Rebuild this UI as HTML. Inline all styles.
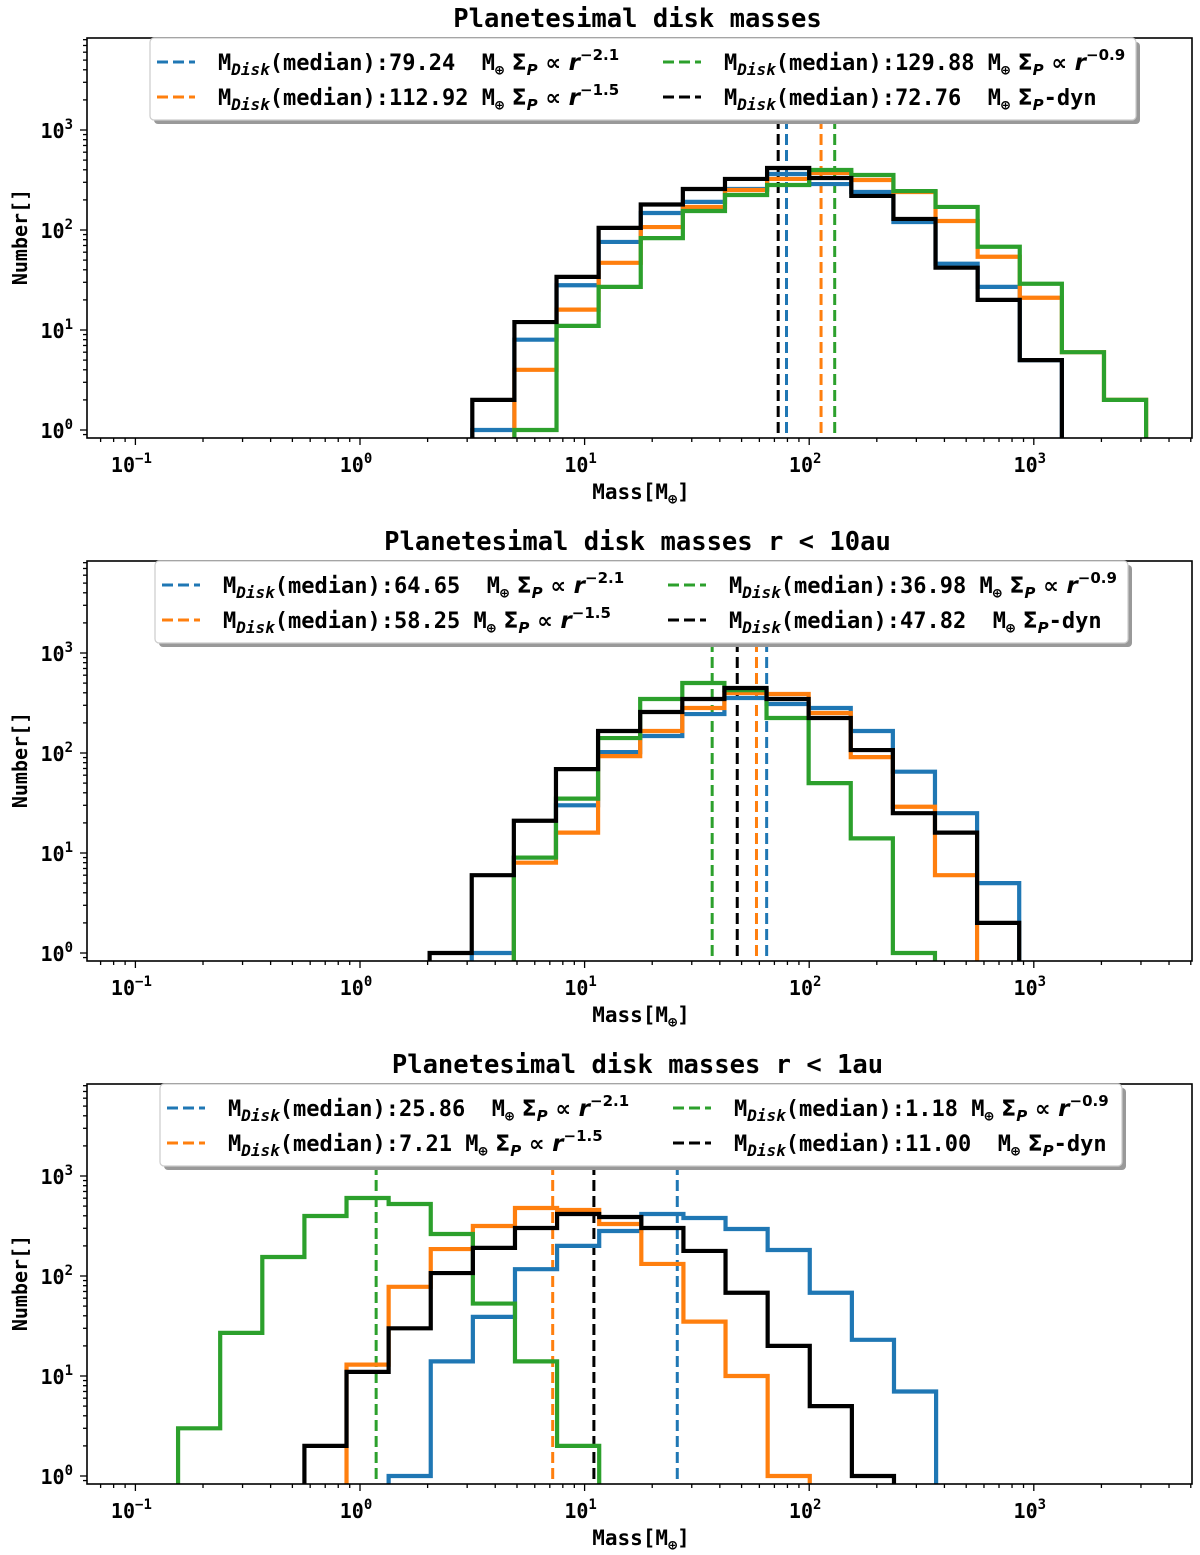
<!DOCTYPE html>
<html><head><meta charset="utf-8"><title>Planetesimal disk masses</title>
<style>
html,body{margin:0;padding:0;background:#fff;}
svg{display:block;font-family:"DejaVu Sans Mono","Liberation Mono",monospace;font-weight:bold;}
text{white-space:pre;}
</style></head>
<body>
<svg id="fig" xmlns="http://www.w3.org/2000/svg" width="1200" height="1555" viewBox="0 0 1200 1555" xml:space="preserve"></svg>
<script>
// ---- data ----
const titles = ["Planetesimal disk masses", "Planetesimal disk masses r < 10au", "Planetesimal disk masses r < 1au"];
const binLo = [0.5, 0.31, -0.81];
const binStep = 0.1875;
const blue1 = [1,8,28,76,148,191,257,363,288,240,120,46,27,5,0,0];
const orange1 = [0,4,16,47,107,170,251,324,372,316,240,123,54,21,6,2];
const green1 = [0,1,11,27,83,155,224,282,398,355,245,170,68,29,6,2];
const black1 = [2,12,34,105,180,257,324,417,331,219,129,42,20,5,0,0];
const blue2 = [0,1,9,30,102,148,245,355,309,282,166,65,25,5];
const orange2 = [0,0,8,16,93,166,282,398,389,251,91,29,6,0];
const green2 = [0,0,9,35,141,347,501,425,224,50,14,1,0,0];
const black2 = [1,6,21,69,166,257,347,447,347,224,107,25,16,2];
const blue3 = [0,0,0,0,0,1,14,39,117,200,282,417,380,295,182,68,23,7];
const orange3 = [0,0,0,0,13,78,186,316,479,457,331,132,35,10,1,0,0,0];
const green3 = [3,27,155,398,603,525,263,53,14,2,0,0,0,0,0,0,0,0];
const black3 = [0,0,0,2,11,30,107,191,302,417,389,302,178,68,20,5,1,0];
const medians1 = [79.24, 112.92, 129.88, 72.76];
const medians2 = [64.65, 58.25, 36.98, 47.82];
const medians3 = [25.86, 7.21, 1.18, 11.00];
const medianLabels1 = ["79.24  ", "112.92 ", "129.88 ", "72.76  "];
const medianLabels2 = ["64.65  ", "58.25 ", "36.98 ", "47.82  "];
const medianLabels3 = ["25.86  ", "7.21 ", "1.18 ", "11.00  "];
const xTickExp = [-1, 0, 1, 2, 3];
const yTickExp = [0, 1, 2, 3];

const series = [[blue1,orange1,green1,black1],[blue2,orange2,green2,black2],[blue3,orange3,green3,black3]];
const medians = [medians1, medians2, medians3];
const medLabels = [medianLabels1, medianLabels2, medianLabels3];
const colors = ["#1f77b4","#ff7f0e","#2ca02c","#000000"];
const seriesNames = ["blue","orange","green","black"];
const slopes = ["−2.1","−1.5","−0.9",null];

const NS = "http://www.w3.org/2000/svg";
const fig = document.getElementById("fig");
const LEFT = 87, RIGHT = 1192, H = 400, X0 = 360, DEC = 224.6;
const tops = [38, 561, 1084];
const legendBox = [[150,1136],[155,1128],[160,1122]];
function xs(v){ return X0 + DEC*Math.log10(v); }
function mk(tag, attrs, parent){ const e=document.createElementNS(NS,tag); for(const k in attrs) e.setAttribute(k, attrs[k]); (parent||fig).appendChild(e); return e; }

const defs = mk("defs",{});
tops.forEach((top,p)=>{
  const cp = mk("clipPath",{id:"clip"+p},defs);
  mk("rect",{x:LEFT,y:top,width:RIGHT-LEFT,height:H},cp);
});

tops.forEach((top,p)=>{
  const ys = v => v<=0 ? top+H+3 : top+392-100*Math.log10(v);
  const g = mk("g",{});
  
  
  const t = mk("text",{x:(LEFT+RIGHT)/2-2, y:top-11, "text-anchor":"middle","font-size":"25.5"},g);
  t.textContent = titles[p];
  
  
  const pg = mk("g",{"clip-path":"url(#clip"+p+")"},g);
  medians[p].forEach((m,i)=>{
    const l = mk("line",{x1:xs(m),x2:xs(m),y1:top,y2:top+H,stroke:colors[i],"stroke-width":3,"stroke-dasharray":"11 5"},pg);
    
    
  });
  series[p].forEach((arr,i)=>{
    const e = k => xs(Math.pow(10, binLo[p]+binStep*k));
    let d = "M"+e(0)+","+(top+H+3);
    arr.forEach((v,k)=>{ d += " L"+e(k)+","+ys(v)+" L"+e(k+1)+","+ys(v); });
    d += " L"+e(arr.length)+","+(top+H+3);
    const path = mk("path",{d:d,fill:"none",stroke:colors[i],"stroke-width":4.2,"stroke-linejoin":"miter"},pg);
    
    
  });
  const fr = mk("rect",{x:LEFT,y:top,width:RIGHT-LEFT,height:H,fill:"none",stroke:"#000","stroke-width":1.6},g);
  
  
  for(let ex=-2; ex<=3; ex++){
    for(let m=1;m<10;m++){
      const v=m*Math.pow(10,ex); const x=xs(v);
      if(x<LEFT||x>RIGHT) continue;
      mk("line",{x1:x,x2:x,y1:top+H,y2:top+H+(m==1?7:4),stroke:"#000","stroke-width":1.3},g);
    }
  }
  xTickExp.forEach(ex=>{
    const tx = mk("text",{x:xs(Math.pow(10,ex))-4,y:top+H+34,"text-anchor":"middle","font-size":"20"},g);
    
    
    tx.appendChild(document.createTextNode("10"));
    const s = mk("tspan",{"font-size":"14",dy:"-9"},tx); s.textContent = String(ex).replace("-","−");
  });
  const xl = mk("text",{x:641,y:top+H+61,"text-anchor":"middle","font-size":"21"},g);
  
  
  xl.appendChild(document.createTextNode("Mass[M"));
  const xs1 = mk("tspan",{"font-size":"15",dy:"5"},xl); xs1.textContent="⊕";
  const xs2 = mk("tspan",{dy:"-5"},xl); xs2.textContent="]";
  for(let ex=-1; ex<=3; ex++){
    for(let m=1;m<10;m++){
      const v=m*Math.pow(10,ex); const y=ys(v);
      if(y<top||y>top+H) continue;
      mk("line",{x1:LEFT,x2:LEFT-(m==1?7:4),y1:y,y2:y,stroke:"#000","stroke-width":1.3},g);
    }
  }
  yTickExp.forEach(ex=>{
    const ty = mk("text",{x:73,y:ys(Math.pow(10,ex))+8,"text-anchor":"end","font-size":"20"},g);
    
    
    ty.appendChild(document.createTextNode("10"));
    const s = mk("tspan",{"font-size":"14",dy:"-9"},ty); s.textContent = String(ex);
  });
  const yl = mk("text",{x:0,y:0,"text-anchor":"middle","font-size":"20",transform:"translate(27,"+(top+199)+") rotate(-90)"},g);
  yl.textContent = "Number[]";
  
  
  const [bx1,bx2] = legendBox[p];
  const lg = mk("g",{},g);
  
  
  mk("rect",{x:bx1+4,y:top+4,width:bx2-bx1,height:82,rx:4,fill:"#999"},lg);
  mk("rect",{x:bx1,y:top,width:bx2-bx1,height:82,rx:4,fill:"#fff",stroke:"#ccc","stroke-width":1.2},lg);
  const pos = [[0,0],[0,1],[1,0],[1,1]];
  medians[p].forEach((m,i)=>{
    const col = pos[i][0], row = pos[i][1];
    const lx = bx1 + 7 + col*506;
    const cy = top + 24 + row*35;
    const eg = mk("g",{},lg);
    
    
    mk("line",{x1:lx,x2:lx+38,y1:cy,y2:cy,stroke:colors[i],"stroke-width":3,"stroke-dasharray":"11 5"},eg);
    const tx = mk("text",{x:lx+61,y:cy+8,"font-size":"22"},eg);
    tx.appendChild(document.createTextNode("M"));
    let s = mk("tspan",{"font-size":"16","font-style":"italic",dy:"5"},tx); s.textContent="Disk";
    s = mk("tspan",{dy:"-5"},tx); s.textContent="(median):"+medLabels[p][i]+"M";
    s = mk("tspan",{"font-size":"15",dy:"5"},tx); s.textContent="⊕";
    s = mk("tspan",{dy:"-5","font-family":"DejaVu Sans, sans-serif"},tx); s.textContent=" Σ";
    s = mk("tspan",{"font-size":"15","font-style":"italic",dy:"5","font-family":"DejaVu Sans, sans-serif"},tx); s.textContent="P";
    if(slopes[i]){
      s = mk("tspan",{dy:"-5","font-family":"DejaVu Sans, sans-serif"},tx); s.textContent=" ∝ ";
      s = mk("tspan",{"font-style":"italic","font-size":"23","font-family":"DejaVu Sans, sans-serif"},tx); s.textContent="r";
      s = mk("tspan",{"font-size":"15",dy:"-10","font-family":"DejaVu Sans, sans-serif"},tx); s.textContent=slopes[i];
    } else {
      s = mk("tspan",{dy:"-5"},tx); s.textContent="-dyn";
    }
  });
});
</script>
</body></html>
